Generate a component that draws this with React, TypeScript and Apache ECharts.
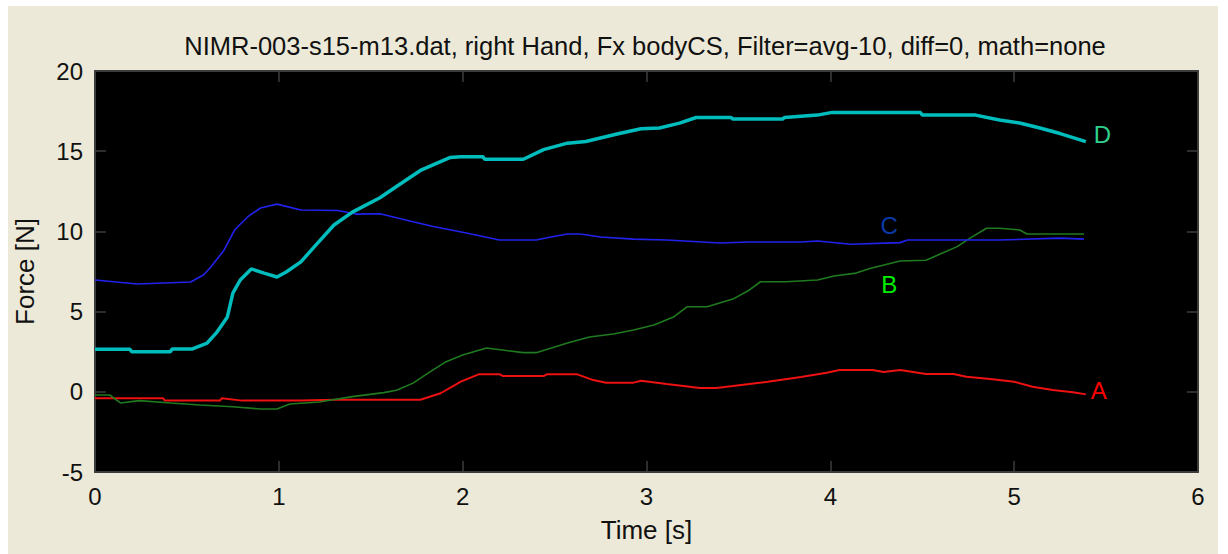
import React, { useEffect, useRef } from "react";
import * as echarts from "echarts";

const titleText = "NIMR-003-s15-m13.dat, right Hand, Fx bodyCS, Filter=avg-10, diff=0, math=none";
const xTicks = [0, 1, 2, 3, 4, 5, 6];
const yTicks = [-5, 0, 5, 10, 15, 20];

const dTime = [0, 0.19, 0.2, 0.41, 0.42, 0.53, 0.61, 0.66, 0.72, 0.75, 0.79, 0.85, 0.92, 0.99, 1.04, 1.12, 1.19, 1.3, 1.4, 1.55, 1.64, 1.77, 1.93, 1.99, 2.11, 2.12, 2.33, 2.44, 2.57, 2.67, 2.84, 2.97, 3.07, 3.18, 3.27, 3.46, 3.47, 3.74, 3.75, 3.93, 4.01, 4.49, 4.5, 4.79, 4.92, 5.03, 5.14, 5.25, 5.39];
const dForce = [2.65, 2.65, 2.5, 2.5, 2.67, 2.67, 3.04, 3.67, 4.67, 6.15, 6.97, 7.66, 7.4, 7.16, 7.47, 8.1, 9.0, 10.4, 11.2, 12.1, 12.8, 13.8, 14.6, 14.66, 14.66, 14.5, 14.5, 15.1, 15.5, 15.6, 16.07, 16.4, 16.45, 16.75, 17.1, 17.1, 17.0, 17.0, 17.1, 17.25, 17.42, 17.42, 17.25, 17.25, 16.95, 16.76, 16.45, 16.1, 15.6];

const cTime = [0, 0.23, 0.52, 0.59, 0.63, 0.7, 0.76, 0.83, 0.9, 0.99, 1.12, 1.32, 1.42, 1.55, 1.73, 1.84, 1.91, 2.02, 2.2, 2.4, 2.48, 2.57, 2.64, 2.75, 2.93, 3.11, 3.4, 3.56, 3.84, 3.93, 4.11, 4.38, 4.42, 4.92, 5.25, 5.38];
const cForce = [6.97, 6.72, 6.85, 7.28, 7.78, 8.8, 10.1, 10.9, 11.46, 11.7, 11.33, 11.3, 11.08, 11.1, 10.6, 10.3, 10.15, 9.9, 9.46, 9.46, 9.65, 9.84, 9.84, 9.65, 9.52, 9.46, 9.28, 9.34, 9.34, 9.4, 9.2, 9.3, 9.46, 9.46, 9.58, 9.52];

const bTime = [0, 0.08, 0.14, 0.24, 0.41, 0.57, 0.75, 0.9, 0.99, 1.06, 1.22, 1.4, 1.57, 1.64, 1.73, 1.82, 1.91, 2.0, 2.13, 2.33, 2.4, 2.57, 2.69, 2.82, 2.93, 3.04, 3.15, 3.22, 3.33, 3.47, 3.56, 3.62, 3.76, 3.93, 4.02, 4.14, 4.22, 4.38, 4.52, 4.61, 4.69, 4.76, 4.85, 4.92, 5.03, 5.07, 5.38];
const bForce = [-0.2, -0.2, -0.7, -0.55, -0.7, -0.82, -0.93, -1.07, -1.07, -0.76, -0.64, -0.3, -0.05, 0.1, 0.54, 1.23, 1.88, 2.3, 2.73, 2.44, 2.44, 3.04, 3.42, 3.6, 3.85, 4.16, 4.68, 5.3, 5.3, 5.78, 6.35, 6.86, 6.86, 6.97, 7.22, 7.4, 7.7, 8.15, 8.2, 8.65, 9.05, 9.58, 10.2, 10.2, 10.09, 9.84, 9.84];

const aTime = [0, 0.37, 0.38, 0.68, 0.69, 0.8, 1.12, 1.3, 1.77, 1.88, 1.99, 2.09, 2.2, 2.22, 2.44, 2.46, 2.62, 2.71, 2.78, 2.93, 2.97, 3.11, 3.29, 3.38, 3.47, 3.66, 3.84, 3.98, 4.05, 4.23, 4.29, 4.38, 4.52, 4.67, 4.74, 4.87, 5.0, 5.1, 5.21, 5.32, 5.39];
const aForce = [-0.4, -0.4, -0.55, -0.55, -0.4, -0.55, -0.55, -0.5, -0.5, -0.09, 0.63, 1.1, 1.1, 0.98, 0.98, 1.1, 1.1, 0.73, 0.57, 0.57, 0.69, 0.49, 0.24, 0.24, 0.36, 0.63, 0.92, 1.19, 1.36, 1.36, 1.23, 1.36, 1.11, 1.11, 0.94, 0.8, 0.63, 0.32, 0.11, -0.03, -0.16];

const labelNames = ["A", "B", "C", "D"];
const labelTime = [5.46, 4.32, 4.32, 5.48];
const labelForce = [0.05, 6.72, 10.34, 16.07];

const FONT = "Liberation Sans";
const FRAME = "#3c3c3c";

function pairs(t: number[], v: number[]) {
  return t.map((x, i) => [x, v[i]]);
}

function labelPoint(i: number, color: string) {
  return {
    symbol: "circle",
    symbolSize: 0,
    silent: true,
    data: [{ coord: [labelTime[i], labelForce[i]], value: labelNames[i] }],
    label: {
      show: true,
      position: "inside",
      formatter: labelNames[i],
      color,
      fontSize: 24,
      fontFamily: FONT,
    },
  };
}

export default function App() {
  const ref = useRef<HTMLDivElement>(null);
  useEffect(() => {
    if (!ref.current) return;
    const chart = echarts.init(ref.current, undefined, { renderer: "svg" });
    const axisCommon = {
      axisLine: { show: true, onZero: false, lineStyle: { color: FRAME, width: 2 } },
      axisTick: { show: true, inside: true, length: 11, lineStyle: { color: FRAME, width: 1.5 } },
      splitLine: { show: false },
    };
    chart.setOption({
      animation: false,
      backgroundColor: "#ECE9D8",
      title: {
        text: titleText,
        left: 640,
        textAlign: "center",
        top: 28,
        textStyle: { fontFamily: FONT, fontSize: 25.5, fontWeight: "normal", color: "#111" },
      },
      graphic: {
        elements: [
          { type: "rect", left: 0, top: 0, shape: { width: 1228, height: 6 }, style: { fill: "#ffffff" } },
          { type: "rect", left: 0, top: 0, shape: { width: 8, height: 554 }, style: { fill: "#ffffff" } },
          { type: "rect", left: 1218, top: 0, shape: { width: 10, height: 554 }, style: { fill: "#ffffff" } },
        ],
      },
      grid: {
        left: 95,
        right: 30,
        top: 71,
        bottom: 82,
        show: true,
        backgroundColor: "#000000",
        borderWidth: 0,
      },
      xAxis: [
        {
          type: "value",
          min: xTicks[0],
          max: xTicks[xTicks.length - 1],
          interval: 1,
          position: "bottom",
          name: "Time [s]",
          nameLocation: "middle",
          nameGap: 45,
          nameTextStyle: { fontFamily: FONT, fontSize: 26, color: "#111" },
          axisLabel: { fontFamily: FONT, fontSize: 24, color: "#111", margin: 12 },
          ...axisCommon,
        },
        {
          type: "value",
          min: xTicks[0],
          max: xTicks[xTicks.length - 1],
          interval: 1,
          position: "top",
          axisLabel: { show: false },
          ...axisCommon,
        },
      ],
      yAxis: [
        {
          type: "value",
          min: yTicks[0],
          max: yTicks[yTicks.length - 1],
          interval: 5,
          position: "left",
          name: "Force [N]",
          nameLocation: "middle",
          nameGap: 57,
          nameRotate: 90,
          nameTextStyle: { fontFamily: FONT, fontSize: 26, color: "#111" },
          axisLabel: { fontFamily: FONT, fontSize: 24, color: "#111", margin: 12 },
          ...axisCommon,
        },
        {
          type: "value",
          min: yTicks[0],
          max: yTicks[yTicks.length - 1],
          interval: 5,
          position: "right",
          axisLabel: { show: false },
          ...axisCommon,
        },
      ],
      series: [
        {
          name: "A",
          type: "line",
          showSymbol: false,
          data: pairs(aTime, aForce),
          lineStyle: { color: "#ee1111", width: 2 },
          markPoint: labelPoint(0, "#ff0000"),
        },
        {
          name: "B",
          type: "line",
          showSymbol: false,
          data: pairs(bTime, bForce),
          lineStyle: { color: "#1f7a1f", width: 1.6 },
          markPoint: labelPoint(1, "#00ee00"),
        },
        {
          name: "C",
          type: "line",
          showSymbol: false,
          data: pairs(cTime, cForce),
          lineStyle: { color: "#2222ee", width: 1.6 },
          markPoint: labelPoint(2, "#0a3aa8"),
        },
        {
          name: "D",
          type: "line",
          showSymbol: false,
          data: pairs(dTime, dForce),
          lineStyle: { color: "#00bdbd", width: 3.5 },
          markPoint: labelPoint(3, "#2fd08c"),
        },
      ],
    });
    return () => chart.dispose();
  }, []);
  return (
    <div
      ref={ref}
      style={{ position: "absolute", left: 0, top: 0, width: 1228, height: 554 }}
    />
  );
}
